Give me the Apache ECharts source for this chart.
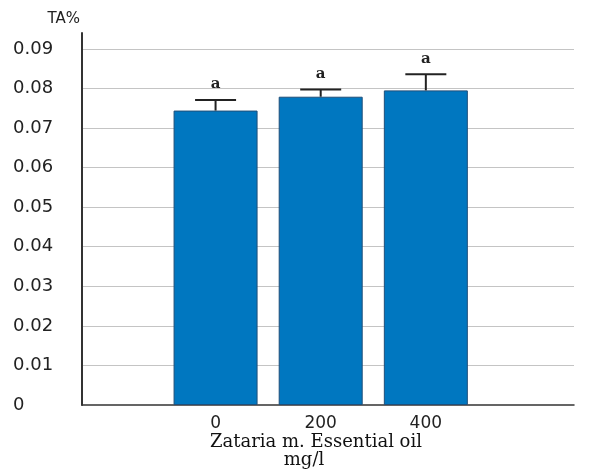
<!DOCTYPE html>
<html>
<head>
<meta charset="utf-8">
<script src="https://cdn.jsdelivr.net/npm/echarts@6/dist/echarts.min.js"></script>
<style>
html,body{margin:0;padding:0;background:#fff;}
#chart{width:591px;height:470px;}
</style>
</head>
<body>
<div id="chart"></div>
<script>
var categories = ['0', '200', '400'];
var taValues = [0.0744, 0.0779, 0.0795];
var taErrors = [0.0027, 0.0018, 0.0041];
var groupLetters = ['a', 'a', 'a'];
var yTickInterval = 0.01;
var yMin = 0;
var yMax = 0.094;
var xTitleLines = ['Zataria m. Essential oil', 'mg/l'];

var chart = echarts.init(document.getElementById('chart'), null, {renderer: 'canvas'});

var errData = categories.map(function (c, i) { return [i, taValues[i], taErrors[i], groupLetters[i]]; });

var option = {
  backgroundColor: '#ffffff',
  animation: false,
  grid: [
    {left: 82, right: 17, top: 33, bottom: 65, outerBoundsMode: 'none', containLabel: false},
    {left: 163, right: 112.6, top: 33, bottom: 65, outerBoundsMode: 'none', containLabel: false}
  ],
  graphic: [
    {type: 'text', style: {x: 316, y: 442, text: xTitleLines[0], textAlign: 'center', textVerticalAlign: 'middle', font: '18px "DejaVu Serif"', fill: '#111'}},
    {type: 'text', style: {x: 304, y: 460, text: xTitleLines[1], textAlign: 'center', textVerticalAlign: 'middle', font: '18px "DejaVu Serif"', fill: '#111'}}
  ],
  xAxis: [
    {
      gridIndex: 0, type: 'value', min: 0, max: 1,
      axisLine: {show: true, lineStyle: {color: '#333', width: 1.5}},
      axisTick: {show: false}, axisLabel: {show: false}, splitLine: {show: false}
    },
    {
      gridIndex: 1, type: 'category', data: categories,
      axisLine: {show: false}, axisTick: {show: false},
      axisLabel: {margin: 10, fontSize: 17, color: '#222', fontFamily: 'DejaVu Sans'}
    }
  ],
  yAxis: [
    {
      gridIndex: 0, type: 'value', min: yMin, max: yMax, interval: yTickInterval,
      name: 'TA%', nameLocation: 'end', nameGap: 14,
      nameTextStyle: {fontFamily: 'DejaVu Sans', fontSize: 15, color: '#222', align: 'right', verticalAlign: 'middle', padding: [0, 2, 0, 0]},
      axisLine: {show: true, lineStyle: {color: '#333', width: 2}},
      axisTick: {show: false},
      axisLabel: {
        showMaxLabel: false, align: 'left', margin: 69, fontSize: 18, color: '#222', fontFamily: 'DejaVu Sans',
        formatter: function (v) { return v === 0 ? '0' : v.toFixed(2); }
      },
      splitLine: {show: true, showMinLine: false, showMaxLine: false, lineStyle: {color: '#c4c4c4', width: 1}}
    },
    {
      gridIndex: 1, type: 'value', min: yMin, max: yMax, interval: yTickInterval, show: false,
      splitLine: {show: false}
    }
  ],
  series: [
    {
      type: 'bar', xAxisIndex: 1, yAxisIndex: 1, data: taValues, barWidth: 84,
      itemStyle: {color: '#0077c0', borderColor: '#1f4e79', borderWidth: 1}
    },
    {
      type: 'custom', xAxisIndex: 1, yAxisIndex: 1, data: errData, z: 5,
      renderItem: function (params, api) {
        var i = api.value(0), v = api.value(1), e = api.value(2);
        var base = api.coord([i, v]);
        var top = api.coord([i, v + e]);
        var half = 20.5;
        return {
          type: 'group',
          children: [
            {type: 'line', shape: {x1: base[0], y1: base[1], x2: top[0], y2: top[1]}, style: {stroke: '#222', lineWidth: 2}},
            {type: 'line', shape: {x1: top[0] - half, y1: top[1], x2: top[0] + half, y2: top[1]}, style: {stroke: '#222', lineWidth: 2}},
            {type: 'text', style: {x: top[0], y: top[1] - 8, text: groupLetters[params.dataIndex], textAlign: 'center', textVerticalAlign: 'bottom', font: 'bold 15px "DejaVu Serif"', fill: '#222'}}
          ]
        };
      }
    }
  ]
};
chart.setOption(option);
</script>
</body>
</html>
